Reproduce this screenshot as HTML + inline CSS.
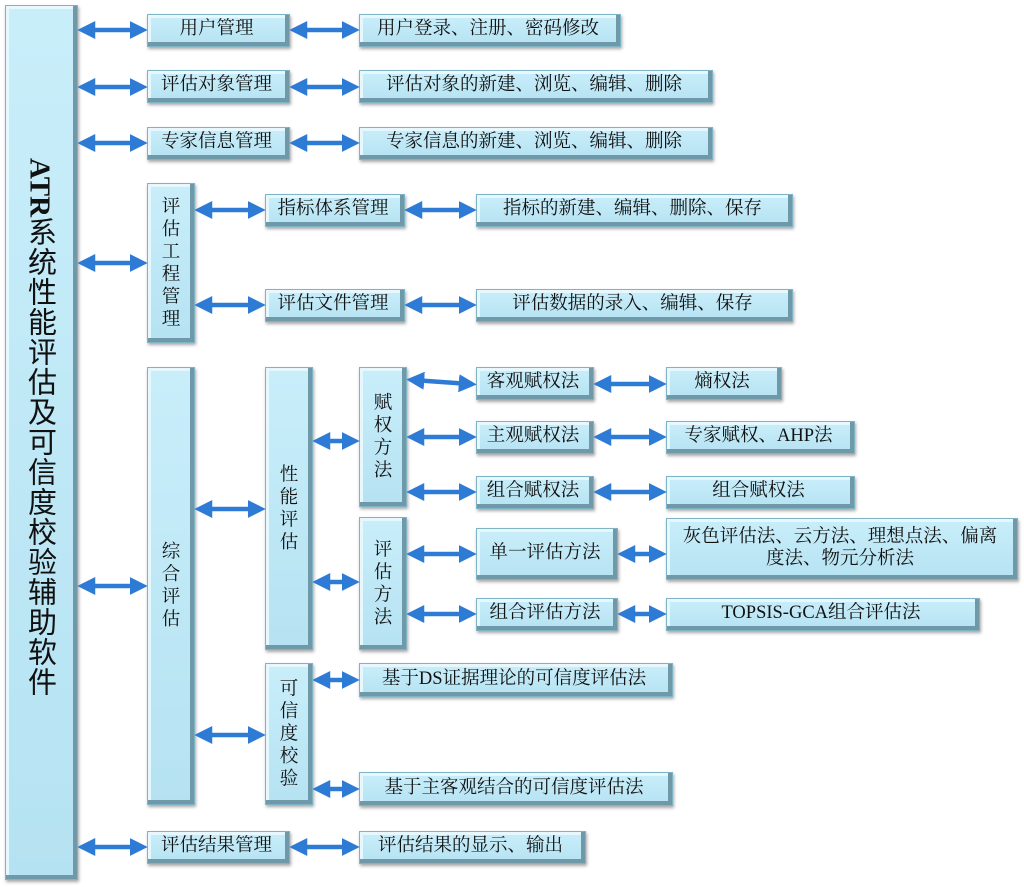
<!DOCTYPE html>
<html><head><meta charset="utf-8"><style>
body{margin:0;width:1024px;height:887px;background:#fff;position:relative;overflow:hidden;font-family:"Liberation Serif","Noto Serif CJK SC",serif;color:#111}
.b{position:absolute;box-sizing:border-box;background:linear-gradient(180deg,#c9eefa,#b5e2f2);border:1px solid #7fb3c6;box-shadow:inset -4px -4px 0 #6f98a8,inset 3px 3px 0 #e6f8fd,1px 2px 3px rgba(0,0,0,.35);display:flex;align-items:center;justify-content:center;text-align:center;font-size:18.5px;line-height:22px;padding:0 4px 3px 0}
.v{writing-mode:vertical-rl;text-orientation:mixed;line-height:20px;letter-spacing:4px;padding:0 4px 0 0}
svg{position:absolute;left:0;top:0}
</style></head><body>
<div class="b v" style="left:5px;top:5px;width:73px;height:875px;font-size:29px;line-height:30px;letter-spacing:1px;font-family:'Liberation Serif','Noto Sans CJK SC',sans-serif;justify-content:flex-start;padding-top:152px"><b style="font-family:'Liberation Serif',serif;letter-spacing:0">ATR</b>系统性能评估及可信度校验辅助软件</div>

<div class="b" style="left:147px;top:14px;width:143px;height:33px">用户管理</div>
<div class="b" style="left:147px;top:70px;width:143px;height:33px">评估对象管理</div>
<div class="b" style="left:147px;top:127px;width:143px;height:33px">专家信息管理</div>
<div class="b v" style="left:147px;top:183px;width:48px;height:160px">评估工程管理</div>
<div class="b v" style="left:147px;top:367px;width:48px;height:438px">综合评估</div>
<div class="b" style="left:147px;top:831px;width:143px;height:33px">评估结果管理</div>

<div class="b" style="left:359px;top:14px;width:262px;height:33px">用户登录、注册、密码修改</div>
<div class="b" style="left:359px;top:70px;width:354px;height:33px">评估对象的新建、浏览、编辑、删除</div>
<div class="b" style="left:359px;top:127px;width:354px;height:33px">专家信息的新建、浏览、编辑、删除</div>

<div class="b" style="left:265px;top:194px;width:140px;height:33px">指标体系管理</div>
<div class="b" style="left:265px;top:289px;width:140px;height:33px">评估文件管理</div>
<div class="b" style="left:476px;top:194px;width:317px;height:33px">指标的新建、编辑、删除、保存</div>
<div class="b" style="left:476px;top:289px;width:317px;height:33px">评估数据的录入、编辑、保存</div>

<div class="b v" style="left:265px;top:367px;width:48px;height:283px">性能评估</div>
<div class="b v" style="left:265px;top:663px;width:48px;height:142px">可信度校验</div>
<div class="b v" style="left:359px;top:367px;width:48px;height:140px">赋权方法</div>
<div class="b v" style="left:359px;top:517px;width:48px;height:133px">评估方法</div>

<div class="b" style="left:476px;top:367px;width:118px;height:33px">客观赋权法</div>
<div class="b" style="left:476px;top:421px;width:118px;height:33px">主观赋权法</div>
<div class="b" style="left:476px;top:476px;width:118px;height:33px">组合赋权法</div>
<div class="b" style="left:476px;top:528px;width:142px;height:52px">单一评估方法</div>
<div class="b" style="left:476px;top:598px;width:142px;height:33px">组合评估方法</div>

<div class="b" style="left:666px;top:367px;width:116px;height:33px">熵权法</div>
<div class="b" style="left:666px;top:421px;width:189px;height:33px">专家赋权、AHP法</div>
<div class="b" style="left:666px;top:476px;width:189px;height:33px">组合赋权法</div>
<div class="b" style="left:666px;top:518px;width:352px;height:62px;line-height:22px">灰色评估法、云方法、理想点法、偏离<br>度法、物元分析法</div>
<div class="b" style="left:666px;top:598px;width:314px;height:33px">TOPSIS-GCA组合评估法</div>

<div class="b" style="left:359px;top:663px;width:314px;height:34px">基于DS证据理论的可信度评估法</div>
<div class="b" style="left:359px;top:772px;width:314px;height:34px">基于主客观结合的可信度评估法</div>
<div class="b" style="left:359px;top:831px;width:227px;height:33px">评估结果的显示、输出</div>

<svg width="1024" height="887">
<defs><marker id="h" markerWidth="4" markerHeight="4" refX="2.5" refY="2" orient="auto-start-reverse" markerUnits="strokeWidth"><path d="M0,0 L4,2 L0,4 Z" fill="#2e7bd6"/></marker></defs>
<g stroke="#2e7bd6" stroke-width="4.5" marker-start="url(#h)" marker-end="url(#h)">
<line x1="84" y1="30" x2="141" y2="30"/>
<line x1="84" y1="87" x2="141" y2="87"/>
<line x1="84" y1="143" x2="141" y2="143"/>
<line x1="84" y1="263" x2="141" y2="263"/>
<line x1="84" y1="586" x2="141" y2="586"/>
<line x1="84" y1="847" x2="141" y2="847"/>
<line x1="296" y1="30" x2="353" y2="30"/>
<line x1="296" y1="87" x2="353" y2="87"/>
<line x1="296" y1="143" x2="353" y2="143"/>
<line x1="201" y1="210" x2="259" y2="210"/>
<line x1="201" y1="305" x2="259" y2="305"/>
<line x1="411" y1="210" x2="470" y2="210"/>
<line x1="411" y1="305" x2="470" y2="305"/>
<line x1="201" y1="509" x2="259" y2="509"/>
<line x1="201" y1="735" x2="259" y2="735"/>
<line x1="319" y1="441" x2="353" y2="441"/>
<line x1="319" y1="582" x2="353" y2="582"/>
<line x1="413" y1="380" x2="470" y2="384"/>
<line x1="413" y1="437" x2="470" y2="437"/>
<line x1="413" y1="492" x2="470" y2="492"/>
<line x1="413" y1="554" x2="470" y2="554"/>
<line x1="413" y1="614" x2="470" y2="614"/>
<line x1="600" y1="384" x2="660" y2="384"/>
<line x1="600" y1="437" x2="660" y2="437"/>
<line x1="600" y1="492" x2="660" y2="492"/>
<line x1="624" y1="554" x2="660" y2="554"/>
<line x1="624" y1="614" x2="660" y2="614"/>
<line x1="319" y1="680" x2="353" y2="680"/>
<line x1="319" y1="789" x2="353" y2="789"/>
<line x1="296" y1="847" x2="353" y2="847"/>
</g></svg>
</body></html>
